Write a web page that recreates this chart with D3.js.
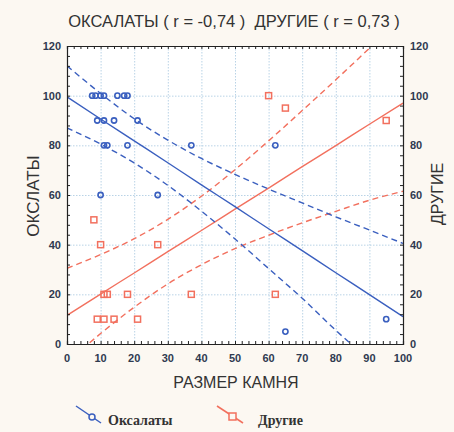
<!DOCTYPE html>
<html><head><meta charset="utf-8">
<script src="https://cdn.jsdelivr.net/npm/d3@7"></script>
<style>
html,body{margin:0;padding:0;background:#fcf8f2;}
svg{display:block;}
</style></head>
<body>
<script>
// ---- data ----
const title = "ОКСАЛАТЫ ( r = -0,74 )  ДРУГИЕ ( r = 0,73 )";
const xLabel = "РАЗМЕР КАМНЯ";
const yLeftLabel = "ОКСЛАТЫ";
const yRightLabel = "ДРУГИЕ";
const xTicks = [0,10,20,30,40,50,60,70,80,90,100];
const yTicks = [0,20,40,60,80,100,120];

const oxX = [7.5,8.5,10,11,15,17,18, 9,11,14,21, 11,12,18,37,62, 10,27, 65,95];
const oxY = [100,100,100,100,100,100,100, 90,90,90,90, 80,80,80,80,80, 60,60, 5,10];

const otX = [60,65,95, 8, 10,27, 11,12,18,37,62, 9,11,14,21];
const otY = [100,95,90, 50, 40,40, 20,20,20,20,20, 10,10,10,10];

// fitted lines & confidence bands, read at these x positions
const bandX   = [0,10,20,30,40,50,60,70,80,90,100];
const oxFit   = [99.5,90.6,81.8,73.0,64.1,55.3,46.4,37.6,28.7,19.9,11.0];
const oxUpper = [112.0,100.9,90.7,82.1,74.7,68.3,62.4,56.8,51.2,45.9,40.5];
const oxLower = [87.0,80.5,72.9,63.9,53.5,42.3,30.4,18.4,5.5,-6.5,-18.5];
const otFit   = [11.5,20.1,28.6,37.2,45.7,54.3,62.8,71.4,79.9,88.5,97.0];
const otUpper = [30.5,36.0,42.4,50.2,59.5,70.2,81.8,94.0,106.4,119.1,131.8];
const otLower = [-7.5,4.2,14.8,24.2,31.9,38.4,43.8,48.8,53.4,57.9,61.5];

// ---- drawing ----
const W = 454, H = 432;
const L = 67, R = 403, T = 46, B = 344;
const blue = "#3a5fbf", red = "#f2705e", tickInk = "#2f3a50";

const svg = d3.select("body").append("svg").attr("width", W).attr("height", H);
const x = d3.scaleLinear().domain([0,100]).range([L,R]);
const y = d3.scaleLinear().domain([0,120]).range([B,T]);

svg.append("defs").append("clipPath").attr("id","pc")
  .append("rect").attr("x",L).attr("y",T).attr("width",R-L).attr("height",B-T);

svg.append("rect").attr("x",L).attr("y",T).attr("width",R-L).attr("height",B-T).attr("fill","#ffffff");

// grid
const grid = svg.append("g").attr("stroke","#b9d3e6").attr("stroke-width",1).attr("stroke-dasharray","1.5,1.5");
grid.selectAll(".gx").data(xTicks.slice(1,-1)).join("line")
  .attr("x1",d=>x(d)+0.5).attr("x2",d=>x(d)+0.5).attr("y1",T).attr("y2",B);
grid.selectAll(".gy").data(yTicks.slice(1,-1)).join("line")
  .attr("y1",d=>y(d)+0.5).attr("y2",d=>y(d)+0.5).attr("x1",L).attr("x2",R);

// lines
const plot = svg.append("g").attr("clip-path","url(#pc)");
const lineGen = arr => d3.line().x((d,i)=>x(bandX[i])).y(d=>y(d)).curve(d3.curveMonotoneX)(arr);
function drawLine(arr, color, dashed){
  plot.append("path").attr("d", lineGen(arr)).attr("fill","none")
    .attr("stroke",color).attr("stroke-width",1.4)
    .attr("stroke-dasharray", dashed ? "6,4" : null);
}
drawLine(otFit, red, false); drawLine(otUpper, red, true); drawLine(otLower, red, true);
drawLine(oxFit, blue, false); drawLine(oxUpper, blue, true); drawLine(oxLower, blue, true);

// points
svg.append("g").selectAll("rect").data(otX.map((v,i)=>[v,otY[i]])).join("rect")
  .attr("x",d=>x(d[0])-3).attr("y",d=>y(d[1])-3).attr("width",6).attr("height",6)
  .attr("fill","none").attr("stroke",red).attr("stroke-width",1.5);
svg.append("g").selectAll("circle").data(oxX.map((v,i)=>[v,oxY[i]])).join("circle")
  .attr("cx",d=>x(d[0])).attr("cy",d=>y(d[1])).attr("r",2.6)
  .attr("fill","none").attr("stroke",blue).attr("stroke-width",1.6);

// frame & ticks (inward)
const axB = svg.append("g").attr("transform",`translate(0,${B})`)
  .call(d3.axisBottom(x).tickValues(d3.range(0,101,2)).tickSize(-3).tickFormat(""));
const axT = svg.append("g").attr("transform",`translate(0,${T})`)
  .call(d3.axisTop(x).tickValues(d3.range(0,101,2)).tickSize(-3).tickFormat(""));
const axL = svg.append("g").attr("transform",`translate(${L},0)`)
  .call(d3.axisLeft(y).tickValues(d3.range(0,121,4)).tickSize(-3).tickFormat(""));
const axR = svg.append("g").attr("transform",`translate(${R},0)`)
  .call(d3.axisRight(y).tickValues(d3.range(0,121,4)).tickSize(-3).tickFormat(""));
[axB,axT,axL,axR].forEach(a=>{ a.select(".domain").attr("stroke","#222").attr("stroke-width",1.2);
  a.selectAll(".tick line").attr("stroke","#222"); });

// tick labels
const tf = "Arial, 'Liberation Sans', sans-serif";
svg.append("g").selectAll("text").data(xTicks).join("text")
  .attr("x",d=>x(d)).attr("y",B+18).attr("text-anchor","middle")
  .attr("font-family",tf).attr("font-size",11).attr("font-weight","bold").attr("fill",tickInk).text(d=>d);
svg.append("g").selectAll("text").data(yTicks).join("text")
  .attr("x",L-6).attr("y",d=>y(d)+4).attr("text-anchor","end")
  .attr("font-family",tf).attr("font-size",11).attr("font-weight","bold").attr("fill",tickInk).text(d=>d);
svg.append("g").selectAll("text").data(yTicks).join("text")
  .attr("x",R+7).attr("y",d=>y(d)+4).attr("text-anchor","start")
  .attr("font-family",tf).attr("font-size",11).attr("font-weight","bold").attr("fill",tickInk).text(d=>d);

// titles
svg.append("text").attr("x",234).attr("y",27).attr("text-anchor","middle")
  .style("white-space","pre")
  .attr("font-family",tf).attr("font-size",16.5).attr("fill","#333").text(title);
svg.append("text").attr("x",236).attr("y",388).attr("text-anchor","middle")
  .attr("font-family",tf).attr("font-size",16).attr("fill","#333").text(xLabel);
svg.append("text").attr("transform",`translate(39,196) rotate(-90)`).attr("text-anchor","middle")
  .attr("font-family",tf).attr("font-size",17).attr("fill","#333").text(yLeftLabel);
svg.append("text").attr("transform",`translate(443,194) rotate(-90)`).attr("text-anchor","middle")
  .attr("font-family",tf).attr("font-size",16).attr("fill","#333").text(yRightLabel);

// legend
const lg = svg.append("g");
lg.append("line").attr("x1",76).attr("y1",406).attr("x2",101).attr("y2",423).attr("stroke",blue).attr("stroke-width",1.5);
lg.append("circle").attr("cx",92).attr("cy",417).attr("r",3).attr("fill","#fcf8f2").attr("stroke",blue).attr("stroke-width",1.5);
lg.append("text").attr("x",108).attr("y",425).attr("font-family","'Liberation Serif','Times New Roman',serif")
  .attr("font-size",14).attr("font-weight","bold").attr("fill","#333").text("Оксалаты");
lg.append("line").attr("x1",217).attr("y1",406).attr("x2",243).attr("y2",423).attr("stroke",red).attr("stroke-width",1.5);
lg.append("rect").attr("x",229).attr("y",413).attr("width",7).attr("height",7).attr("fill","#fcf8f2").attr("stroke",red).attr("stroke-width",1.5);
lg.append("text").attr("x",258).attr("y",425).attr("font-family","'Liberation Serif','Times New Roman',serif")
  .attr("font-size",14).attr("font-weight","bold").attr("fill","#333").text("Другие");
</script>
</body></html>
